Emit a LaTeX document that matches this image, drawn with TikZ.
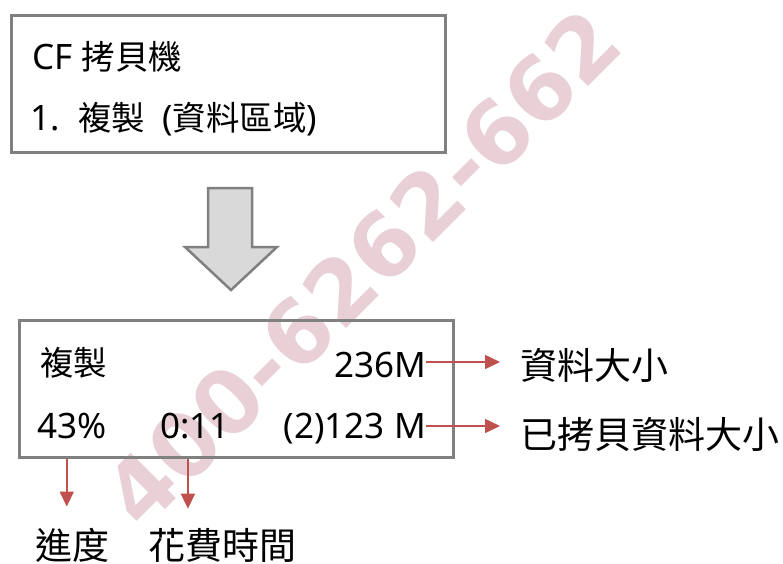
\documentclass[tikz,border=0pt]{standalone}
\usepackage{fontspec}
\setmainfont{Noto Sans}
\newfontfamily\cjk{Noto Sans CJK TC}
\newfontfamily\wmfont{DejaVu Sans}
\usetikzlibrary{arrows.meta}
\definecolor{boxgray}{RGB}{128,128,128}
\definecolor{arrowfill}{RGB}{217,217,217}
\definecolor{redarr}{RGB}{192,80,77}
\definecolor{wmpink}{RGB}{233,208,214}
\newcommand{\cjkin}{\cjk\fontsize{33.5}{40}\selectfont}
\newcommand{\cjkout}{\cjk\fontsize{37}{44}\selectfont}
\begin{document}
\begin{tikzpicture}[x=1pt,y=-1pt,
  box/.style={draw=boxgray, line width=3pt, inner sep=0pt, rectangle},
  txt/.style={inner sep=0pt, text=black, font=\fontsize{35}{40}\selectfont},
  cjkin/.style={inner sep=0pt, text=black, font=\cjkin},
  cjkout/.style={inner sep=0pt, text=black, font=\cjkout},
  rarrow/.style={draw=redarr, line width=1.6pt, -{Triangle[length=15pt,width=14pt]}, redarr},
  blockarrow/.style={draw=boxgray, fill=arrowfill, line width=2.5pt, line join=miter}
]
\useasboundingbox (0,0) rectangle (783,563);
\fill[white] (0,0) rectangle (783,563);

% watermark
\node[inner sep=0pt, rotate=45, text=wmpink, font=\wmfont\bfseries\fontsize{88}{100}\selectfont] (wm) at (362,268) {400-6262-662};

% top box
\node[box, minimum width=434pt, minimum height=137pt] (box1) at (228,83.5) {};
\node[txt, anchor=base west] (title) at (32,69) {CF {\cjkin 拷貝機}};
\node[txt, anchor=base west] (num) at (30,130) {1.};
\node[cjkin, anchor=base west] (copy1) at (78,130) {複製};
\node[txt, anchor=base west] (area) at (162,130) {({\cjkin 資料區域})};

% block arrow
\draw[blockarrow] (208,188) -- (252,188) -- (252,247) -- (277,247) -- (231,290) -- (185,247) -- (208,247) -- cycle;

% bottom box
\node[box, minimum width=434pt, minimum height=137pt] (box2) at (236,388.5) {};
\node[cjkin, anchor=base west] (copy2) at (40,375) {複製};
\node[txt, anchor=base east] (m236) at (426,377) {236M};
\node[txt, anchor=base west] (p43) at (37,438) {43\%};
\node[txt, anchor=base west] (t011) at (160,438) {0:11};
\node[txt, anchor=base east] (m123) at (426,438) {(2)123 M};

% outside labels
\node[cjkout, anchor=base west] (lab1) at (520,379) {資料大小};
\node[cjkout, anchor=base west] (lab2) at (520,448) {已拷貝資料大小};
\node[cjkout, anchor=base west] (lab3) at (35,559) {進度};
\node[cjkout, anchor=base west] (lab4) at (148,559) {花費時間};

% red arrows
\draw[rarrow, shorten >=20pt] ([yshift=15pt]m236.base east) -- ([yshift=15pt]m236.base east -| lab1.west);
\draw[rarrow, shorten >=20pt] ([yshift=12pt]m123.base east) -- ([yshift=12pt]m123.base east -| lab2.west);
\draw[rarrow, shorten >=21pt] ([xshift=-5pt]p43.south |- box2.south) -- ([xshift=-5pt]p43.south |- lab3.north);
\draw[rarrow, shorten >=19pt] ([xshift=-7pt]t011.south |- box2.south) -- ([xshift=-7pt]t011.south |- lab4.north);
\end{tikzpicture}
\end{document}
